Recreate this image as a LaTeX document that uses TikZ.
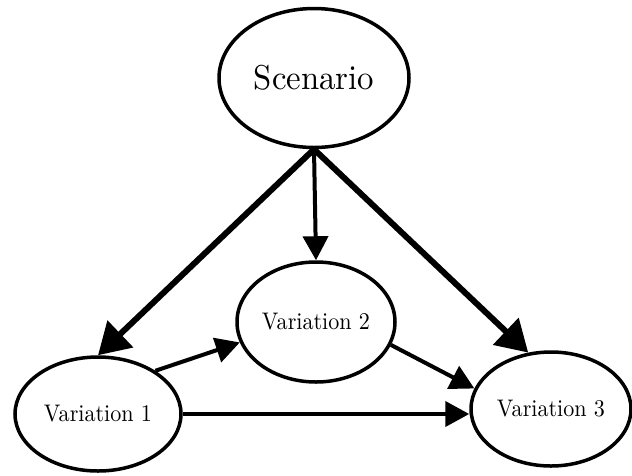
\documentclass[tikz,border=0pt]{standalone}
\usepackage{fontspec}
\setmainfont{lmroman10-regular.otf}
\newfontfamily\titlefont[FakeStretch=0.95]{lmroman10-regular.otf}
\newfontfamily\labelfont[FakeStretch=0.92]{lmroman10-regular.otf}
\usetikzlibrary{shapes.geometric,arrows.meta}

\tikzset{
  blob/.style={draw=black, line width=3.5pt, ellipse, inner sep=0pt, fill=white},
  bigtext/.style={font=\titlefont\fontsize{34.5}{40}\selectfont},
  smalltext/.style={font=\labelfont\fontsize{24}{28}\selectfont},
  heavy/.style={draw=black, line width=6pt, -{Triangle[length=31pt,width=36pt]}},
  light/.style={draw=black, line width=4pt, -{Triangle[length=24pt,width=25pt]}}
}

\begin{document}
\begin{tikzpicture}[x=1pt, y=-1pt]
  \useasboundingbox (0,0) rectangle (632,475);

  % nodes
  \node[blob, bigtext, minimum width=190pt, minimum height=139pt] (S) at (314,78) {Scenario};
  \node[blob, smalltext, minimum width=158pt, minimum height=120pt] (V2) at (316,322) {Variation 2};
  \node[blob, smalltext, minimum width=166pt, minimum height=114pt] (V1) at (98,414) {Variation 1};
  \node[blob, smalltext, minimum width=160pt, minimum height=114pt] (V3) at (551,409) {Variation 3};

  % connectors from the scenario
  \draw[heavy] (S.south) -- (V1.north);
  \draw[light] (S.south) -- (V2.north);
  \draw[heavy] (S.south) -- (V3.112);

  % connectors between the variations
  \draw[light] (V1.37) -- (V2.195);
  \draw[light] (V2.343) -- (V3.165);
  \draw[light] (V1.east) -- (V1.east -| V3.west);
\end{tikzpicture}
\end{document}
